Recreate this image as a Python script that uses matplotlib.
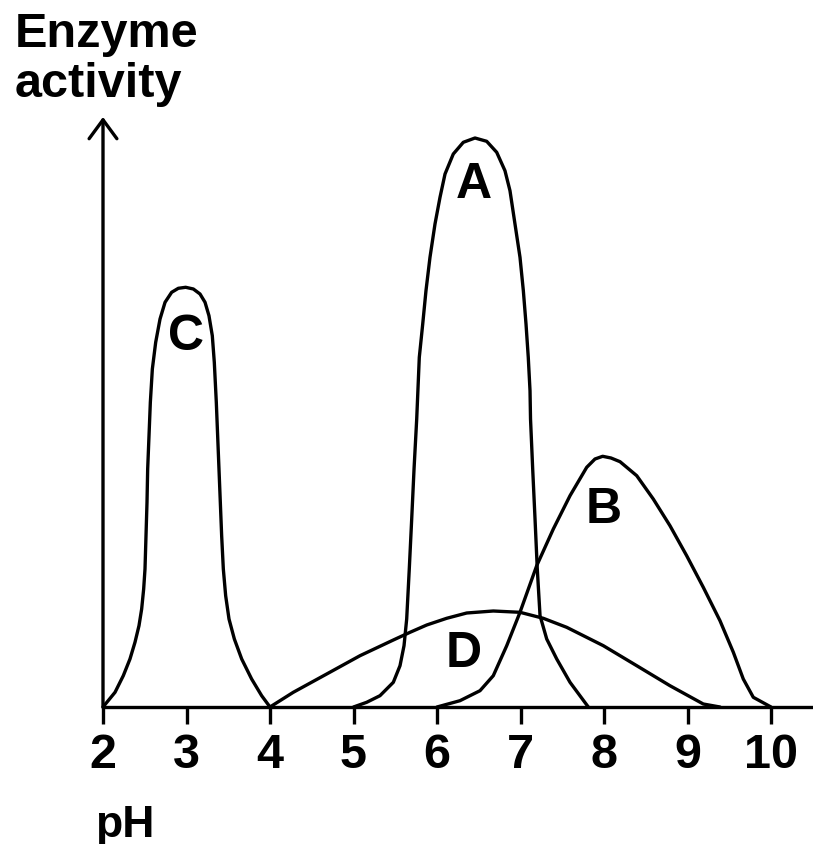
import numpy as np
import matplotlib
matplotlib.use("Agg")
import matplotlib.pyplot as plt

plt.rcParams['font.family'] = ['Liberation Sans', 'DejaVu Sans']
plt.rcParams['font.weight'] = 'bold'

# curves: pH vs enzyme activity (arbitrary units)
c_ph = [2.0, 2.144, 2.243, 2.323, 2.383, 2.431, 2.463, 2.487, 2.503, 2.515, 2.527,
        2.535, 2.551, 2.567, 2.591, 2.631, 2.683, 2.743, 2.822, 2.902, 2.99,
        3.082, 3.162, 3.222, 3.269, 3.309, 3.333, 3.357, 3.373, 3.389, 3.405,
        3.421, 3.441, 3.469, 3.509, 3.573, 3.661, 3.78, 3.9, 4.0]
c_act = [0, 1.47, 3.13, 4.8, 6.47, 8.13, 9.8, 11.8, 13.8, 17.13, 20.47,
         23.8, 27.13, 30.47, 33.8, 36.47, 38.8, 40.47, 41.47, 41.87, 41.97,
         41.8, 41.3, 40.47, 39.13, 37.13, 34.47, 30.47, 27.13, 23.8, 20.47,
         17.13, 13.8, 11.13, 8.8, 6.8, 4.8, 2.8, 1.13, 0]

a_ph = [5.0, 5.158, 5.317, 5.477, 5.557, 5.605, 5.637, 5.668, 5.697, 5.725, 5.757,
        5.788, 5.829, 5.868, 5.916, 5.976, 6.036, 6.096, 6.195, 6.315, 6.455,
        6.595, 6.715, 6.814, 6.874, 6.934, 6.994, 7.034, 7.066, 7.093, 7.114,
        7.12, 7.146, 7.174, 7.201, 7.234, 7.314, 7.434, 7.593, 7.812]
a_act = [0, 0.47, 1.13, 2.47, 4.13, 6.13, 8.8, 13.8, 18.8, 23.8, 28.8,
         34.97, 38.3, 41.63, 44.97, 48.3, 50.97, 53.3, 55.3, 56.47, 56.9,
         56.57, 55.47, 53.63, 51.63, 48.3, 44.97, 41.63, 38.3, 34.97, 31.63,
         28.8, 23.8, 18.8, 13.8, 9.13, 6.8, 4.8, 2.47, 0]

b_ph = [6.0, 6.275, 6.515, 6.674, 6.835, 6.994, 7.194, 7.393, 7.593, 7.793, 7.892,
        7.984, 8.084, 8.192, 8.392, 8.59, 8.79, 8.99, 9.189, 9.389, 9.549, 9.668,
        9.788, 10.0]
b_act = [0, 0.63, 1.63, 3.13, 6.13, 9.47, 14.13, 17.8, 21.13, 23.97, 24.8,
         25.07, 24.9, 24.53, 23.13, 20.8, 18.13, 15.13, 11.97, 8.63, 5.47, 2.8,
         0.97, 0]

d_ph = [4.0, 4.279, 4.679, 5.078, 5.477, 5.677, 5.877, 6.116, 6.356, 6.674,
        6.994, 7.273, 7.553, 7.992, 8.392, 8.79, 9.189, 9.389]
d_act = [0, 1.47, 3.3, 5.13, 6.7, 7.47, 8.2, 8.87, 9.4, 9.6,
         9.47, 8.87, 7.97, 6.13, 4.13, 2.13, 0.3, 0]

labels = ['A', 'B', 'C', 'D']
label_ph = [6.443, 8.0, 2.994, 6.324]
label_act = [51.0, 18.53, 35.8, 4.13]

ticks = [2, 3, 4, 5, 6, 7, 8, 9, 10]

fig = plt.figure(figsize=(8.13, 8.45), dpi=100)
ax = fig.add_axes([103 / 813, 137 / 845, 1 - 103 / 813, 590 / 845])

for xs, ys in [(c_ph, c_act), (a_ph, a_act), (b_ph, b_act), (d_ph, d_act)]:
    ax.plot(xs, ys, color='black', lw=2.4, solid_joinstyle='round',
            solid_capstyle='round', clip_on=False)

for lab, x, y in zip(labels, label_ph, label_act):
    ax.text(x, y, lab, fontsize=36, fontweight='bold', ha='center', va='baseline')

ax.set_xlim(2, 2 + 710 / 83.5)
ax.set_ylim(0, 59.0)
ax.set_xticks(ticks)
ax.set_xticklabels([str(t) for t in ticks], fontsize=35, fontweight='bold')
ax.tick_params(axis='x', direction='out', length=12, width=2.4, pad=6)
ax.set_yticks([])

for s in ['top', 'right', 'left']:
    ax.spines[s].set_visible(False)
ax.spines['bottom'].set_linewidth(2.4)

# y axis with open arrow head
ax.annotate('', xy=(0, 1), xytext=(0, 0), xycoords='axes fraction',
            arrowprops=dict(arrowstyle='->,head_length=0.68,head_width=0.5',
                            lw=2.4, color='black', shrinkA=0, shrinkB=0,
                            mutation_scale=20), annotation_clip=False)

fig.text(15 / 813, 1 - 46.7 / 845, 'Enzyme', fontsize=35, fontweight='bold', va='baseline')
fig.text(15 / 813, 1 - 96.7 / 845, 'activity', fontsize=35, fontweight='bold', va='baseline')
fig.text(95 / 813, 8.3 / 845, 'pH', fontsize=32, fontweight='bold', va='baseline')

fig.savefig('out.png', dpi=100)
